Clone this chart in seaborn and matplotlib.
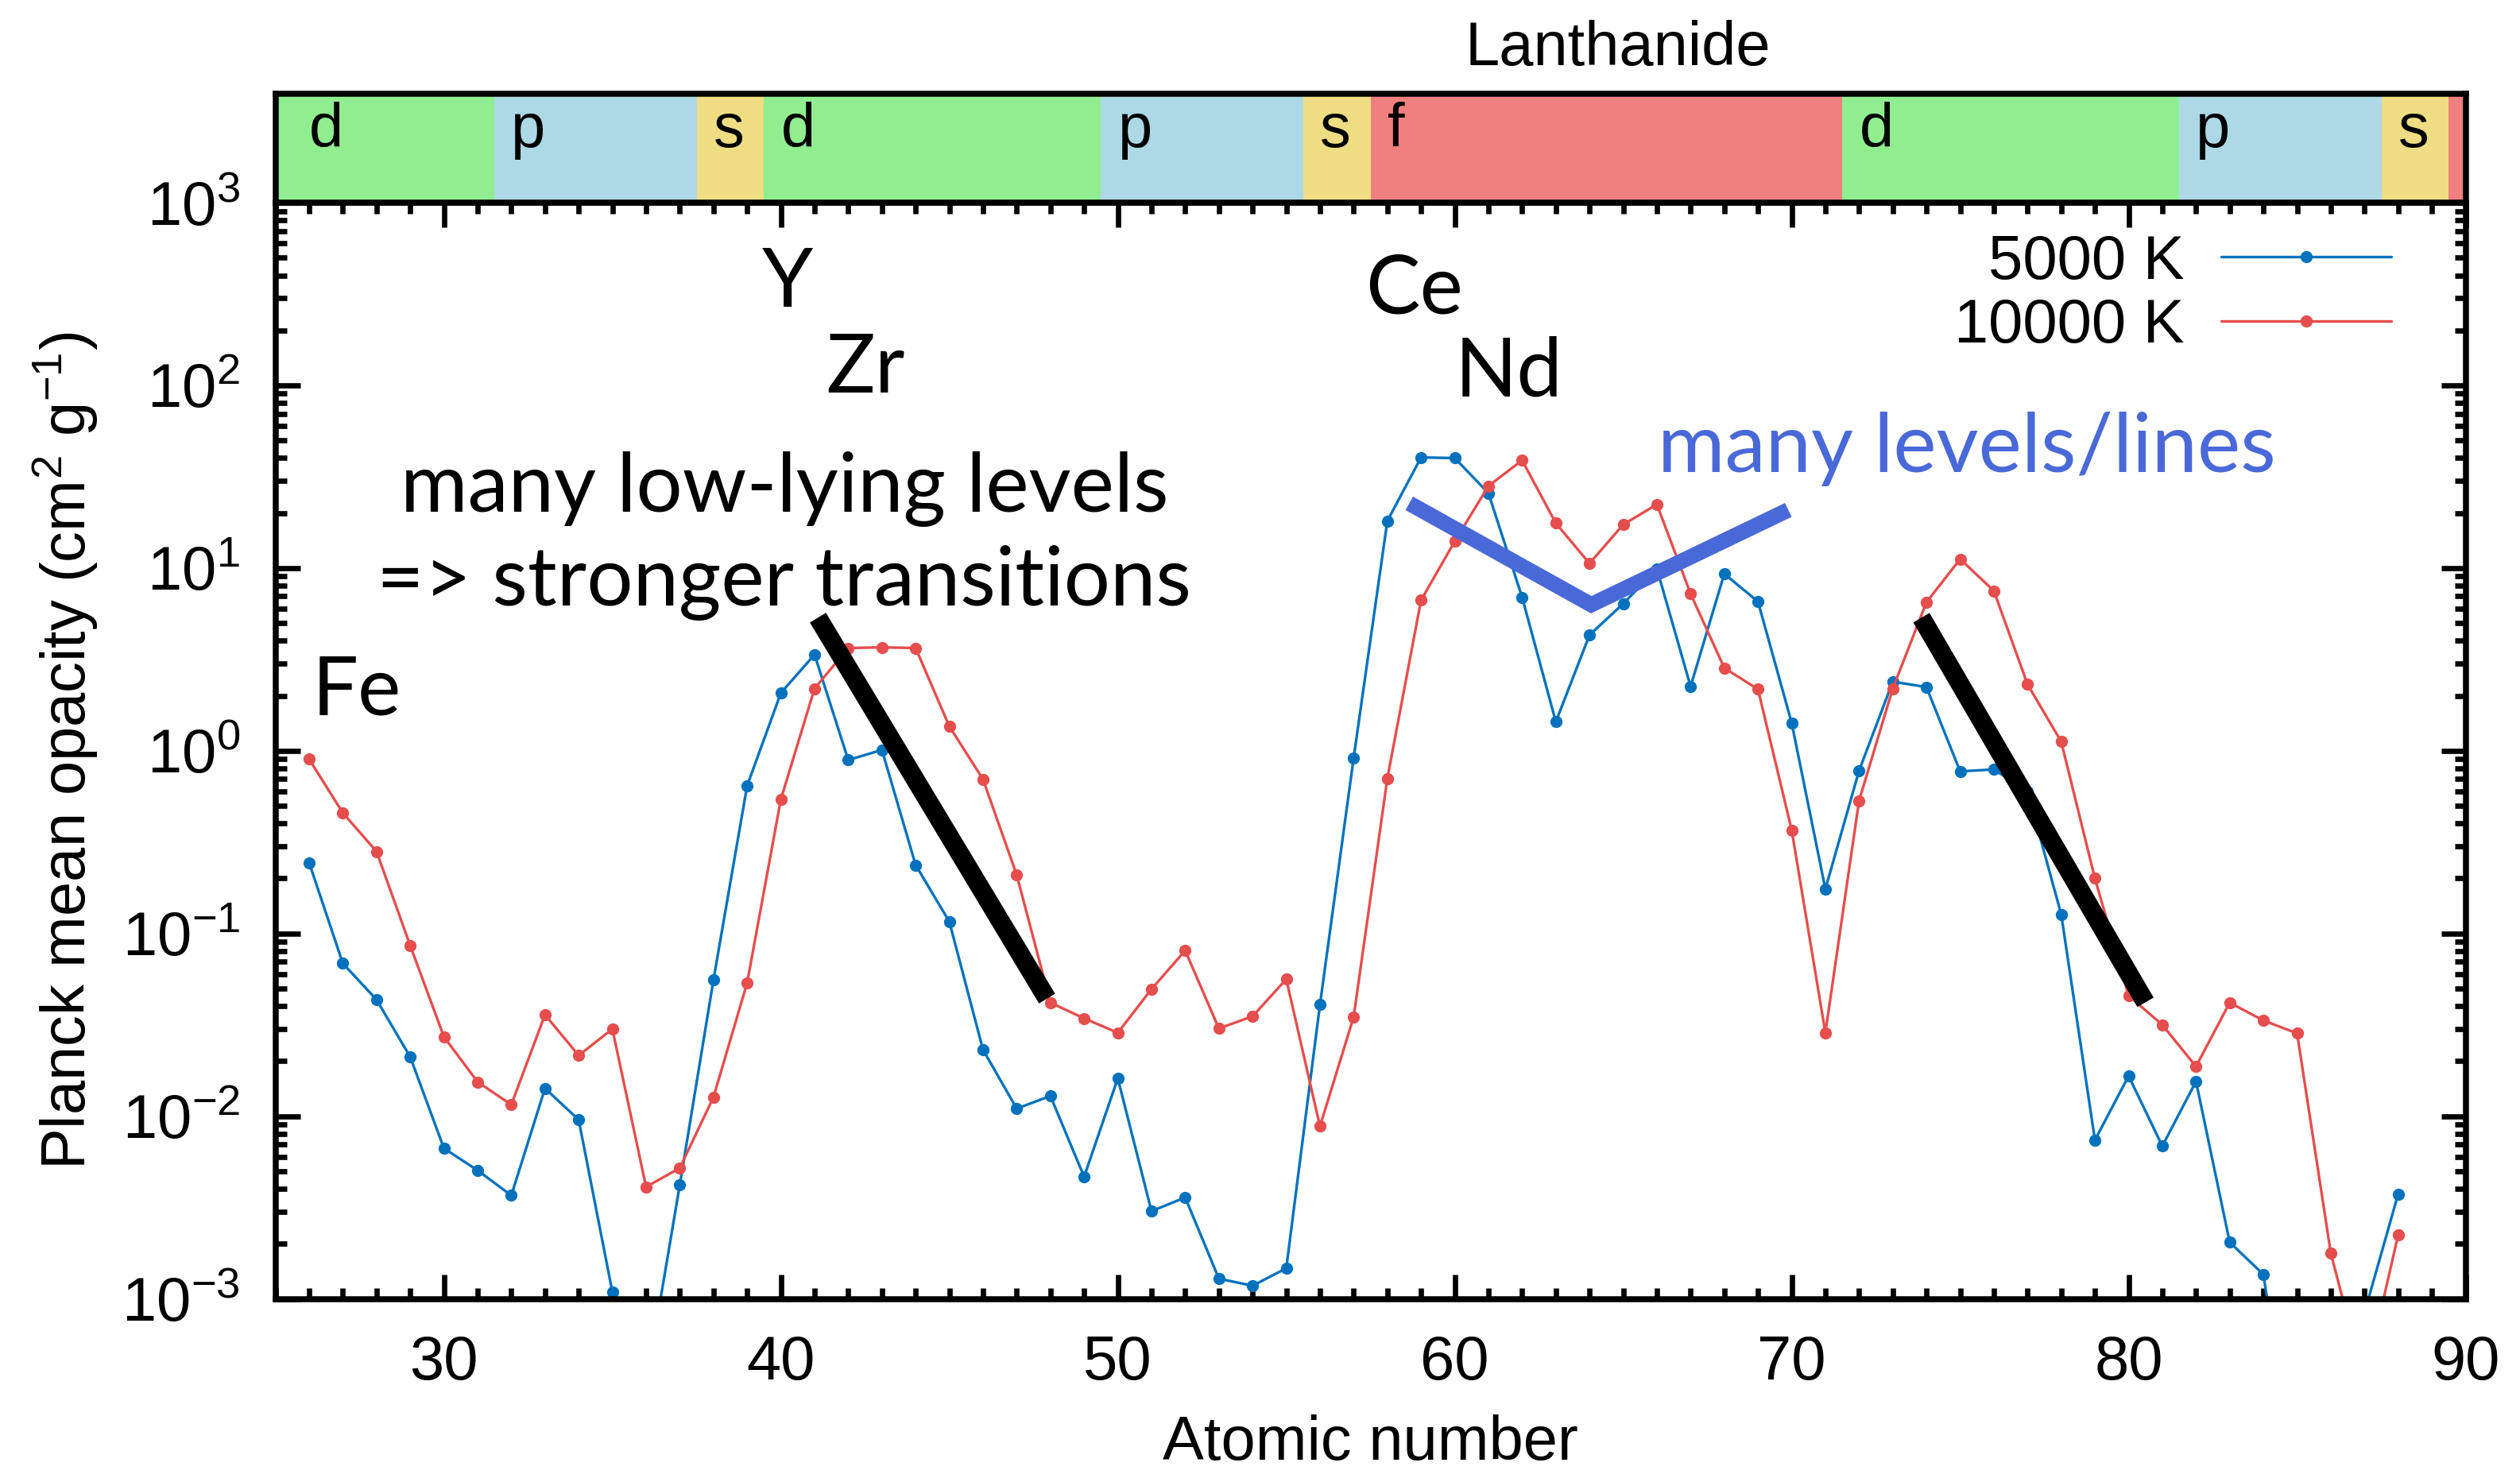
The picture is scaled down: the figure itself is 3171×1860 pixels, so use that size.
import numpy as np
import pandas as pd
import matplotlib
matplotlib.use("Agg")
import matplotlib.pyplot as plt
import seaborn as sns
from matplotlib.ticker import MultipleLocator, LogLocator, NullFormatter

# ---------------- data ----------------
atomic_number = list(range(26, 89))
opacity_5000K = [0.244, 0.0686, 0.0434, 0.0211, 0.00667, 0.00505, 0.00368, 0.0142, 0.00955, 0.00109,
                 0.00034, 0.0042, 0.0557, 0.644, 2.07, 3.36, 0.89, 1.01, 0.237, 0.116,
                 0.0231, 0.011, 0.0129, 0.00466, 0.0161, 0.00302, 0.00359, 0.00129, 0.00118, 0.00147,
                 0.0407, 0.914, 18.1, 40.3, 40.0, 25.7, 6.92, 1.44, 4.3, 6.38,
                 9.9, 2.25, 9.3, 6.55, 1.42, 0.175, 0.778, 2.39, 2.23, 0.771,
                 0.79, 0.6, 0.127, 0.0074, 0.0166, 0.00686, 0.0155, 0.00204, 0.00136, 0.000085,
                 0.00025, 0.00084, 0.00375]
opacity_10000K = [0.90, 0.457, 0.281, 0.0859, 0.0272, 0.0154, 0.01155, 0.0359, 0.0215, 0.030,
                  0.0041, 0.0052, 0.0127, 0.0537, 0.542, 2.19, 3.65, 3.68, 3.65, 1.36,
                  0.698, 0.209, 0.0418, 0.0343, 0.0286, 0.0496, 0.0806, 0.0302, 0.0352, 0.0562,
                  0.0088, 0.0349, 0.705, 6.67, 14.0, 28.1, 38.9, 17.6, 10.6, 17.3,
                  22.3, 7.23, 2.84, 2.17, 0.368, 0.0286, 0.533, 2.19, 6.5, 11.2,
                  7.5, 2.31, 1.12, 0.2, 0.0457, 0.0316, 0.0187, 0.0418, 0.0334, 0.0284,
                  0.00178, 0.00035, 0.00224]
series_labels = ["5000 K", "10000 K"]
series_colors = ["#0072bd", "#e64d4d"]

block_edges = [25, 31.5, 37.5, 39.5, 49.5, 55.5, 57.5, 71.5, 81.5, 87.5, 89.5, 90]
block_names = ["d", "p", "s", "d", "p", "s", "f", "d", "p", "s", "f"]
block_label_x = [26, 32, 38, 40, 50, 56, 58, 72, 82, 88]
block_colors = {"d": "#90ee90", "p": "#add8e6", "s": "#eedd82", "f": "#f08080"}

element_labels = ["Fe", "Y", "Zr", "Ce", "Nd"]
element_x = [27.4, 40.2, 42.5, 58.8, 61.6]
element_y = [2.1, 360, 122, 330, 117]

note_text = "many low-lying levels\n=> stronger transitions"
note_xy = (40.1, 15.0)
lines_text = "many levels/lines"
lines_xy = (75.2, 45)

trend1_x, trend1_y = [41.1, 47.9], [5.35, 0.044]
trend2_x, trend2_y = [73.85, 80.5], [5.35, 0.042]
vee_x, vee_y = [58.65, 64.05, 69.9], [22.6, 6.3, 20.8]

# ---------------- style ----------------
sns.set_theme(style="ticks")
plt.rcParams["font.family"] = ["Liberation Sans", "DejaVu Sans"]
plt.rcParams["mathtext.default"] = "regular"
plt.rcParams["axes.linewidth"] = 2.7
for key in ["axes.edgecolor", "text.color", "axes.labelcolor", "xtick.color", "ytick.color"]:
    plt.rcParams[key] = "black"
FS = 28
ANN_FS = 37
ANN_FONT = ["Lato", "DejaVu Sans"]
BLUE_NOTE = "#4a69d8"

fig = plt.figure(figsize=(15.855, 9.3), dpi=200)
ax = fig.add_axes([0.1093, 0.1212, 0.8691, 0.7417])
axb = fig.add_axes([0.1093, 0.8629, 0.8691, 0.0737])

df = pd.DataFrame({
    "Z": atomic_number * 2,
    "kappa": opacity_5000K + opacity_10000K,
    "T": [series_labels[0]] * len(atomic_number) + [series_labels[1]] * len(atomic_number),
})
sns.lineplot(data=df, x="Z", y="kappa", hue="T", hue_order=series_labels,
             palette=dict(zip(series_labels, series_colors)), marker="o",
             markersize=5.5, markeredgewidth=0, linewidth=1.2, ax=ax, legend=True)

ax.set_yscale("log")
ax.set_xlim(25, 90)
ax.set_ylim(1e-3, 1e3)
ax.xaxis.set_major_locator(MultipleLocator(10))
ax.xaxis.set_minor_locator(MultipleLocator(1))
ax.yaxis.set_major_locator(LogLocator(base=10, numticks=20))
ax.yaxis.set_minor_locator(LogLocator(base=10, subs=np.arange(2, 10), numticks=20))
ax.yaxis.set_minor_formatter(NullFormatter())
ax.tick_params(which="both", direction="in", top=True, right=True, width=2.4)
ax.tick_params(which="major", length=11, pad=16, labelsize=FS)
ax.tick_params(which="minor", length=5)
ax.set_xlabel("Atomic number", fontsize=FS, labelpad=10)
ax.set_ylabel("Planck mean opacity (cm$^2$ g$^{-1}$)", fontsize=FS, labelpad=10)

# legend
handles, labels = ax.get_legend_handles_labels()
ax.legend(handles, labels, loc="upper right", bbox_to_anchor=(0.966, 0.972),
          frameon=False, markerfirst=False, handlelength=2.75, handletextpad=0.6,
          labelspacing=0.1, borderpad=0, borderaxespad=0, numpoints=1, fontsize=FS)

# annotations
for lab, x, y in zip(element_labels, element_x, element_y):
    ax.text(x, y, lab, fontsize=ANN_FS, family=ANN_FONT, ha="center", va="center")
ax.text(note_xy[0], note_xy[1], note_text, fontsize=ANN_FS, family=ANN_FONT,
        ha="center", va="center", linespacing=1.3)
ax.text(lines_xy[0], lines_xy[1], lines_text, fontsize=ANN_FS, family=ANN_FONT,
        ha="center", va="center", color=BLUE_NOTE)
ax.plot(trend1_x, trend1_y, color="black", lw=8.5, solid_capstyle="butt")
ax.plot(trend2_x, trend2_y, color="black", lw=8.5, solid_capstyle="butt")
ax.plot(vee_x, vee_y, color=BLUE_NOTE, lw=7, solid_capstyle="butt", solid_joinstyle="miter")

# block band
axb.set_xlim(25, 90)
axb.set_ylim(0, 1)
for i, name in enumerate(block_names):
    axb.axvspan(block_edges[i], block_edges[i + 1], color=block_colors[name], lw=0)
for x, name in zip(block_label_x, block_names):
    axb.text(x, 0.93, name, fontsize=FS, ha="left", va="top")
axb.set_xticks([])
axb.set_yticks([])
for s in axb.spines.values():
    s.set_linewidth(2.7)
fig.text(0.642, 0.967, "Lanthanide", fontsize=FS, ha="center", va="center")

fig.savefig("out.png", dpi=200)
